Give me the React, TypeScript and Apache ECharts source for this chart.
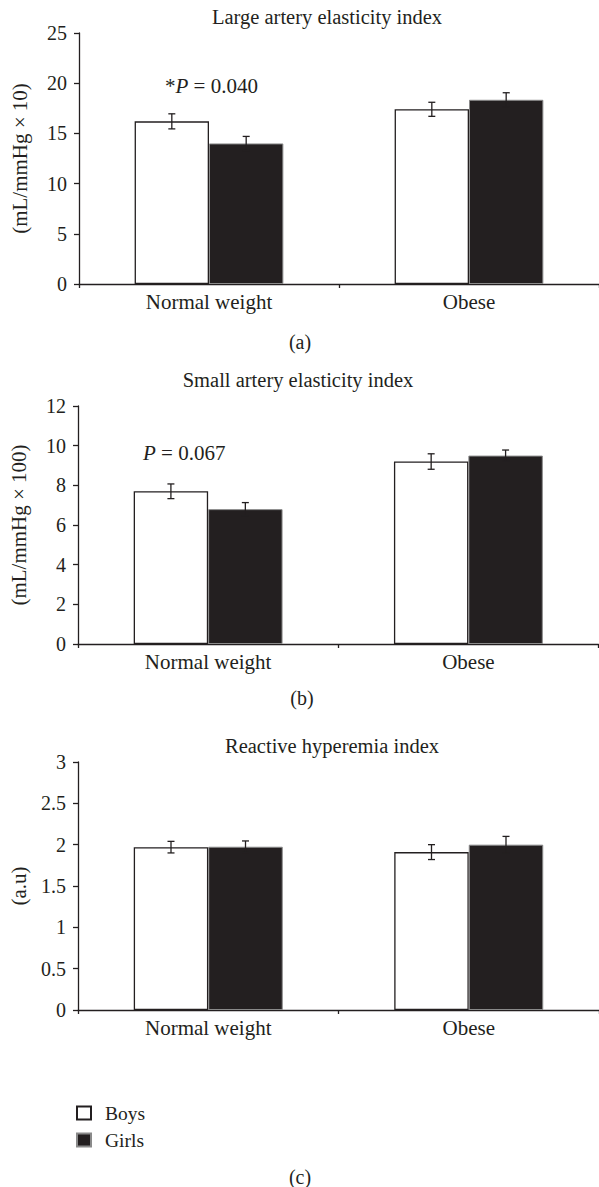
import React, { useEffect, useRef } from "react";
import * as echarts from "echarts";

const categories = ["Normal weight", "Obese"];

const largeBoys = [16.2, 17.4];
const largeBoysErr = [0.75, 0.7];
const largeGirls = [14.0, 18.35];
const largeGirlsErr = [0.7, 0.7];

const smallBoys = [7.7, 9.2];
const smallBoysErr = [0.37, 0.39];
const smallGirls = [6.8, 9.5];
const smallGirlsErr = [0.33, 0.28];

const rhiBoys = [1.97, 1.91];
const rhiBoysErr = [0.07, 0.09];
const rhiGirls = [1.975, 2.0];
const rhiGirlsErr = [0.07, 0.1];

const titles = [
  "Large artery elasticity index",
  "Small artery elasticity index",
  "Reactive hyperemia index",
];
const yNames = ["(mL/mmHg \u00d7 10)", "(mL/mmHg \u00d7 100)", "(a.u)"];
const yMax = [25, 12, 3];
const yInterval = [5, 2, 0.5];

const INK = "#231f20";
const FONT = "Liberation Serif";
const BAR_FRAC = 0.286;

export default function App() {
  const ref = useRef<HTMLDivElement>(null);

  useEffect(() => {
    if (!ref.current) return;
    const chart = echarts.init(ref.current, null, { renderer: "svg" });

    const grids = [
      { left: 79, top: 33, width: 524, height: 251 },
      { left: 74.5, top: 406, width: 524, height: 238 },
      { left: 76, top: 762, width: 524, height: 248 },
    ];

    const sets = [
      [largeBoys, largeBoysErr, largeGirls, largeGirlsErr],
      [smallBoys, smallBoysErr, smallGirls, smallGirlsErr],
      [rhiBoys, rhiBoysErr, rhiGirls, rhiGirlsErr],
    ];

    const xAxis = grids.map((_, i) => ({
      type: "category",
      gridIndex: i,
      data: categories,
      axisLine: { show: true, lineStyle: { color: INK, width: 1.3 } },
      axisTick: { show: true, alignWithLabel: false, length: 4, lineStyle: { color: INK, width: 1.3 } },
      axisLabel: { color: INK, fontSize: 21, fontFamily: FONT, margin: 7 },
    }));

    const yAxis = grids.map((_, i) => ({
      type: "value",
      gridIndex: i,
      min: 0,
      max: yMax[i],
      interval: yInterval[i],
      name: yNames[i],
      nameLocation: "middle",
      nameGap: 49,
      nameTextStyle: { color: INK, fontSize: 21, fontFamily: FONT },
      splitLine: { show: false },
      axisLine: { show: true, lineStyle: { color: INK, width: 1.3 } },
      axisTick: { show: true, inside: false, length: 5, lineStyle: { color: INK, width: 1.3 } },
      axisLabel: { color: INK, fontSize: 20, fontFamily: FONT, margin: 12 },
    }));

    const series: any[] = [];
    sets.forEach((s, i) => {
      const [b, be, g, ge] = s;
      series.push({
        type: "bar",
        name: "Boys",
        xAxisIndex: i,
        yAxisIndex: i,
        data: b,
        barWidth: BAR_FRAC * 100 + "%",
        barGap: "0%",
        itemStyle: { color: "#ffffff", borderColor: INK, borderWidth: 1.3 },
      });
      series.push({
        type: "bar",
        name: "Girls",
        xAxisIndex: i,
        yAxisIndex: i,
        data: g,
        barWidth: BAR_FRAC * 100 + "%",
        barGap: "0%",
        itemStyle: { color: INK, borderColor: "#8a8a8a", borderWidth: 1 },
      });
      const errData: any[] = [];
      b.forEach((v, k) => errData.push([k, v, be[k], -1]));
      g.forEach((v, k) => errData.push([k, v, ge[k], 1]));
      series.push({
        type: "custom",
        xAxisIndex: i,
        yAxisIndex: i,
        z: 10,
        silent: true,
        data: errData,
        encode: { x: 0, y: 1 },
        renderItem: (params: any, api: any) => {
          const ci = api.value(0);
          const v = api.value(1);
          const e = api.value(2);
          const side = api.value(3);
          const band = api.size([1, 0])[0];
          const off = (side * band * BAR_FRAC) / 2;
          const top = api.coord([ci, v + e]);
          const bot = api.coord([ci, v - e]);
          const x = top[0] + off;
          const hw = 3.5;
          const st = { stroke: INK, lineWidth: 1.3 };
          return {
            type: "group",
            children: [
              { type: "line", shape: { x1: x, y1: top[1], x2: x, y2: bot[1] }, style: st },
              { type: "line", shape: { x1: x - hw, y1: top[1], x2: x + hw, y2: top[1] }, style: st },
              { type: "line", shape: { x1: x - hw, y1: bot[1], x2: x + hw, y2: bot[1] }, style: st },
            ],
          };
        },
      });
    });

    const textStyle = (text: string, x: number, y: number, size: number) => ({
      type: "text",
      x,
      y,
      silent: true,
      style: {
        text,
        fill: INK,
        fontSize: size,
        fontFamily: FONT,
        align: "center",
        verticalAlign: "middle",
      },
    });

    const rich = {
      s: { fontSize: 21, fontFamily: FONT, fill: INK, color: INK },
      i: { fontSize: 21, fontFamily: FONT, fontStyle: "italic", fill: INK, color: INK },
    };

    const graphic = [
      textStyle(titles[0], 327, 17, 20.5),
      textStyle(titles[1], 298, 380, 20.5),
      textStyle(titles[2], 332, 746, 20.5),
      textStyle("(a)", 300, 342, 20),
      textStyle("(b)", 302, 698, 20),
      textStyle("(c)", 300, 1177, 20),
      {
        type: "text",
        x: 165,
        y: 86,
        silent: true,
        style: {
          text: "{s|*}{i|P} = 0.040",
          rich,
          fill: INK,
          fontSize: 21,
          fontFamily: FONT,
          align: "left",
          verticalAlign: "middle",
        },
      },
      {
        type: "text",
        x: 143,
        y: 453,
        silent: true,
        style: {
          text: "{i|P} = 0.067",
          rich,
          fill: INK,
          fontSize: 21,
          fontFamily: FONT,
          align: "left",
          verticalAlign: "middle",
        },
      },
    ];

    chart.setOption({
      animation: false,
      grid: grids.map((g) => ({ ...g, containLabel: false })),
      xAxis,
      yAxis,
      series,
      legend: {
        data: ["Boys", "Girls"],
        orient: "vertical",
        left: 76,
        top: 1103,
        icon: "rect",
        itemWidth: 14,
        itemHeight: 13,
        itemGap: 7,
        selectedMode: false,
        padding: 0,
        textStyle: { color: INK, fontSize: 19.5, fontFamily: FONT, lineHeight: 19, padding: [0, 0, 0, 9] },
      },
      graphic,
    });

    return () => chart.dispose();
  }, []);

  return (
    <div
      ref={ref}
      style={{ position: "absolute", left: 0, top: 0, width: 599, height: 1187, background: "#fff" }}
    />
  );
}
